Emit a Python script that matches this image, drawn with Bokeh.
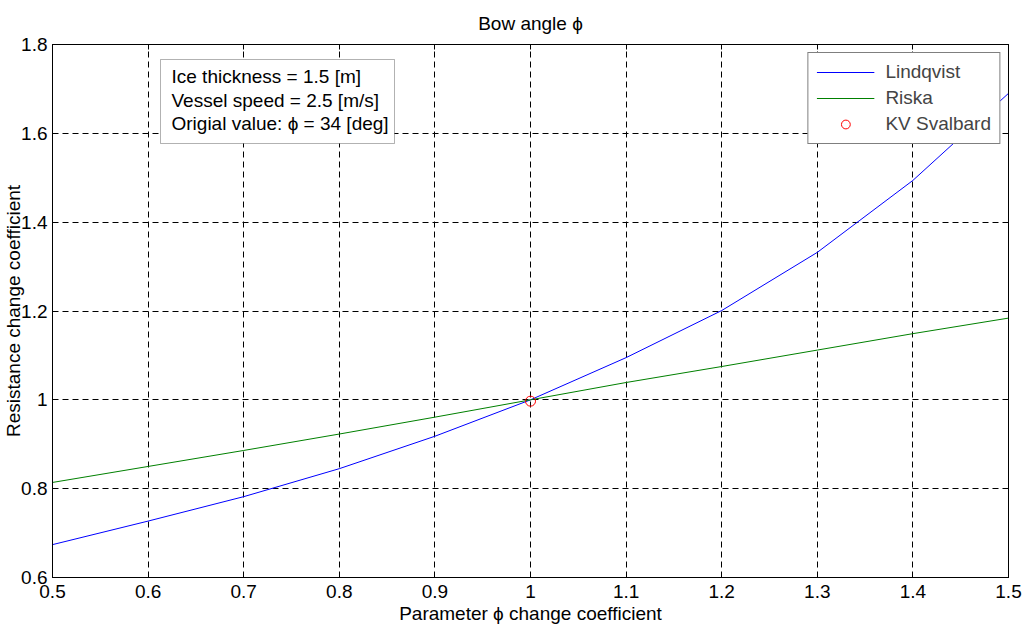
from bokeh.plotting import figure
from bokeh.models import (Range1d, LinearAxis, BoxAnnotation, Label, Legend, LegendItem,
                          FixedTicker, Title)
from bokeh.embed import file_html
from bokeh.resources import INLINE

# ---- data ----
coef = [0.5, 0.6, 0.7, 0.8, 0.9, 1.0, 1.1, 1.2, 1.3, 1.4, 1.5]
lindqvist = [0.674, 0.727, 0.782, 0.845, 0.918, 1.0, 1.095, 1.201, 1.332, 1.494, 1.690]
riska = [0.814, 0.850, 0.886, 0.923, 0.961, 1.0, 1.039, 1.075, 1.112, 1.149, 1.184]
svalbard_x = [1.0]
svalbard_y = [0.997]
x_ticks = [0.5, 0.6, 0.7, 0.8, 0.9, 1.0, 1.1, 1.2, 1.3, 1.4, 1.5]
y_ticks = [0.6, 0.8, 1.0, 1.2, 1.4, 1.6, 1.8]
x_tick_labels = {0.5: "0.5", 0.6: "0.6", 0.7: "0.7", 0.8: "0.8", 0.9: "0.9", 1.0: "1",
                 1.1: "1.1", 1.2: "1.2", 1.3: "1.3", 1.4: "1.4", 1.5: "1.5"}
y_tick_labels = {0.6: "0.6", 0.8: "0.8", 1.0: "1", 1.2: "1.2", 1.4: "1.4", 1.6: "1.6", 1.8: "1.8"}
info_lines = ["Ice thickness = 1.5 [m]", "Vessel speed = 2.5 [m/s]", "Origial value: \u03d5 = 34 [deg]"]
chart_title = "Bow angle \u03d5"
x_label = "Parameter \u03d5 change coefficient"
y_label = "Resistance change coefficient"

FONT = "Liberation Sans"
FS = "19px"

p = figure(width=1024, height=627, output_backend="svg", toolbar_location=None,
           x_range=Range1d(0.5, 1.5), y_range=Range1d(0.6, 1.8),
           min_border_left=48, min_border_right=16, min_border_top=44, min_border_bottom=50,
           title=chart_title)
p.title.align = "center"
p.title.text_font = FONT
p.title.text_font_size = FS
p.title.text_font_style = "normal"
p.title.text_color = "black"
p.title.offset = 0
p.title.standoff = 21
p.outline_line_color = "black"
p.outline_line_width = 1
p.background_fill_color = "white"
p.border_fill_color = "white"

for ax in (p.xaxis[0], p.yaxis[0]):
    ax.major_tick_in = 5
    ax.major_tick_out = 0
    ax.minor_tick_line_color = None
    ax.axis_line_color = "black"
    ax.major_tick_line_color = "black"
    ax.major_label_text_font = FONT
    ax.major_label_text_font_size = FS
    ax.major_label_text_color = "black"
    ax.axis_label_text_font = FONT
    ax.axis_label_text_font_size = FS
    ax.axis_label_text_font_style = "normal"
    ax.axis_label_text_color = "black"

p.xaxis[0].ticker = FixedTicker(ticks=x_ticks)
p.yaxis[0].ticker = FixedTicker(ticks=y_ticks)
p.xaxis[0].major_label_overrides = x_tick_labels
p.yaxis[0].major_label_overrides = y_tick_labels
p.xaxis[0].major_label_standoff = 7
p.yaxis[0].major_label_standoff = 5
p.yaxis[0].axis_label = y_label
p.yaxis[0].axis_label_standoff = -6

# top and right axes with inward ticks, no labels
for loc, tk in (("above", x_ticks), ("right", y_ticks)):
    a = LinearAxis(ticker=FixedTicker(ticks=tk), major_tick_in=5, major_tick_out=0,
                   minor_tick_line_color=None, major_label_text_font_size="0px",
                   major_label_standoff=0, axis_line_color="black")
    p.add_layout(a, loc)

# x axis title
p.add_layout(Title(text=x_label, align="center", text_font=FONT, text_font_size=FS,
                   text_font_style="normal", text_color="black", standoff=0, offset=0),
             "below")

p.grid.grid_line_color = "black"
p.grid.grid_line_dash = "6 4"
p.grid.grid_line_width = 1
p.xgrid.ticker = FixedTicker(ticks=x_ticks)
p.ygrid.ticker = FixedTicker(ticks=y_ticks)

r1 = p.line(coef, lindqvist, line_color="blue", line_width=1)
r2 = p.line(coef, riska, line_color="green", line_width=1)
r3 = p.scatter(svalbard_x, svalbard_y, marker="circle", size=10, fill_color=None,
               line_color="red", line_width=1)

legend = Legend(items=[LegendItem(label="Lindqvist", renderers=[r1]),
                       LegendItem(label="Riska", renderers=[r2]),
                       LegendItem(label="KV Svalbard", renderers=[r3])],
                location="top_right", margin=8, padding=8, spacing=4,
                glyph_width=58, glyph_height=22, label_height=22, label_standoff=11,
                label_text_font=FONT, label_text_font_size=FS,
                border_line_color="black", border_line_width=1,
                background_fill_color="white", background_fill_alpha=1)
p.add_layout(legend)

box = BoxAnnotation(left=108, right=342, top=518, bottom=434,
                    left_units="screen", right_units="screen",
                    top_units="screen", bottom_units="screen",
                    fill_color="white", fill_alpha=1, line_color="black", line_width=1)
p.add_layout(box)
for i, t in enumerate(info_lines):
    p.add_layout(Label(x=119, y=501 - 23.5 * i, x_units="screen", y_units="screen",
                       text=t, text_font=FONT, text_font_size=FS,
                       text_baseline="middle", text_color="black"))

open("out.html", "w").write(file_html(p, INLINE))
